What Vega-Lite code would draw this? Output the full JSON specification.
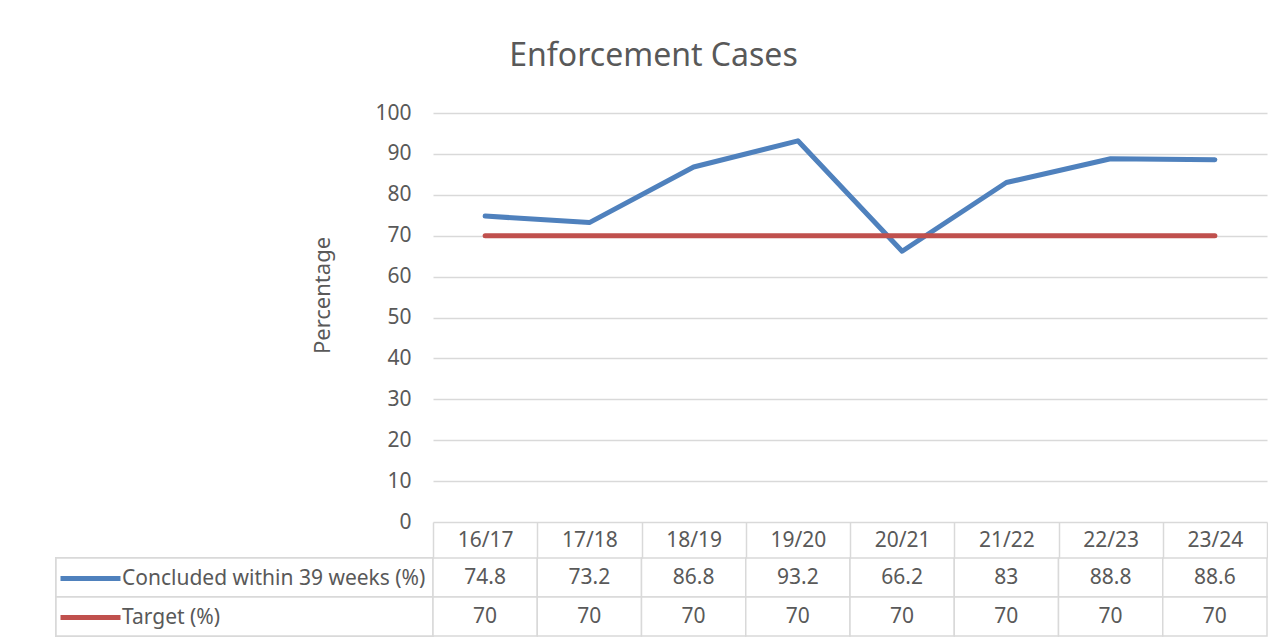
{
  "$schema": "https://vega.github.io/schema/vega-lite/v6.json",
  "background": "white",
  "autosize": {"type": "pad"},
  "padding": {"left": 55, "top": 40, "right": 0, "bottom": 0},
  "title": {"text": "Enforcement Cases", "fontSize": 32, "fontWeight": "normal", "color": "#595959", "anchor": "middle", "offset": 4, "dx": -8, "baseline": "alphabetic"},
  "data": {"values": [
    {"year": "16/17", "series": "Concluded within 39 weeks (%)", "value": 74.8},
    {"year": "17/18", "series": "Concluded within 39 weeks (%)", "value": 73.2},
    {"year": "18/19", "series": "Concluded within 39 weeks (%)", "value": 86.8},
    {"year": "19/20", "series": "Concluded within 39 weeks (%)", "value": 93.2},
    {"year": "20/21", "series": "Concluded within 39 weeks (%)", "value": 66.2},
    {"year": "21/22", "series": "Concluded within 39 weeks (%)", "value": 83},
    {"year": "22/23", "series": "Concluded within 39 weeks (%)", "value": 88.8},
    {"year": "23/24", "series": "Concluded within 39 weeks (%)", "value": 88.6},
    {"year": "16/17", "series": "Target (%)", "value": 70},
    {"year": "17/18", "series": "Target (%)", "value": 70},
    {"year": "18/19", "series": "Target (%)", "value": 70},
    {"year": "19/20", "series": "Target (%)", "value": 70},
    {"year": "20/21", "series": "Target (%)", "value": 70},
    {"year": "21/22", "series": "Target (%)", "value": 70},
    {"year": "22/23", "series": "Target (%)", "value": 70},
    {"year": "23/24", "series": "Target (%)", "value": 70}
  ]},
  "columns": 2,
  "spacing": {"row": 36, "column": 0},
  "bounds": "flush",
  "concat": [
    {
      "width": 377, "height": 409,
      "transform": [{"filter": "false"}],
      "mark": {"type": "point", "opacity": 0},
      "encoding": {}
    },
    {
      "width": 834, "height": 409,
      "mark": {"type": "line", "strokeWidth": 5, "strokeCap": "round", "strokeJoin": "round"},
      "encoding": {
        "x": {"field": "year", "type": "ordinal", "sort": null, "scale": {"type": "point", "padding": 0.5}, "axis": null},
        "y": {"field": "value", "type": "quantitative", "scale": {"domain": [0, 100], "nice": false},
          "axis": {"values": [0, 10, 20, 30, 40, 50, 60, 70, 80, 90, 100], "title": "Percentage", "titleFontSize": 22, "titleFontWeight": "normal", "titleColor": "#595959", "titlePadding": 40, "titleY": 182,
            "labelFontSize": 21, "labelColor": "#595959", "labelPadding": 22, "domain": false, "ticks": false,
            "grid": true, "gridColor": "#d9d9d9", "gridWidth": 1.5}},
        "color": {"field": "series", "type": "nominal",
          "scale": {"domain": ["Concluded within 39 weeks (%)", "Target (%)"], "range": ["#4f81bd", "#c0504d"]},
          "legend": {"orient": "none", "legendX": 22, "legendY": 453, "title": null, "symbolType": "M-3,0H3", "symbolSize": 400, "symbolStrokeWidth": 5,
            "labelFontSize": 21, "labelColor": "#595959", "labelLimit": 0, "labelOffset": 19, "rowPadding": 16, "padding": 0}}
      }
    },
    {
      "width": 377, "height": 78,
      "mark": {"type": "rect", "fill": "white", "stroke": "#d9d9d9", "strokeWidth": 1.5},
      "encoding": {
        "y": {"field": "series", "type": "nominal", "scale": {"domain": ["Concluded within 39 weeks (%)", "Target (%)"], "paddingInner": 0, "paddingOuter": 0}, "axis": null}
      }
    },
    {
      "width": 834, "height": 78,
      "layer": [
        {
          "mark": {"type": "rect", "fill": "white", "stroke": "#d9d9d9", "strokeWidth": 1.5},
          "encoding": {
            "x": {"field": "year", "type": "ordinal", "sort": null, "scale": {"paddingInner": 0, "paddingOuter": 0},
              "axis": {"orient": "top", "title": null, "domain": false, "ticks": true, "tickBand": "extent", "tickSize": 36, "tickColor": "#d9d9d9", "tickWidth": 1.5,
                "labelPadding": -18, "labelBaseline": "middle", "labelAngle": 0, "labelFontSize": 21, "labelColor": "#595959"}},
            "y": {"field": "series", "type": "nominal", "scale": {"domain": ["Concluded within 39 weeks (%)", "Target (%)"], "paddingInner": 0, "paddingOuter": 0}, "axis": null}
          }
        },
        {
          "mark": {"type": "text", "fontSize": 21, "color": "#595959"},
          "encoding": {
            "x": {"field": "year", "type": "ordinal", "sort": null},
            "y": {"field": "series", "type": "nominal"},
            "text": {"field": "value", "type": "nominal"}
          }
        }
      ]
    }
  ],
  "config": {
    "font": "Noto Sans",
    "view": {"stroke": null}
  }
}
